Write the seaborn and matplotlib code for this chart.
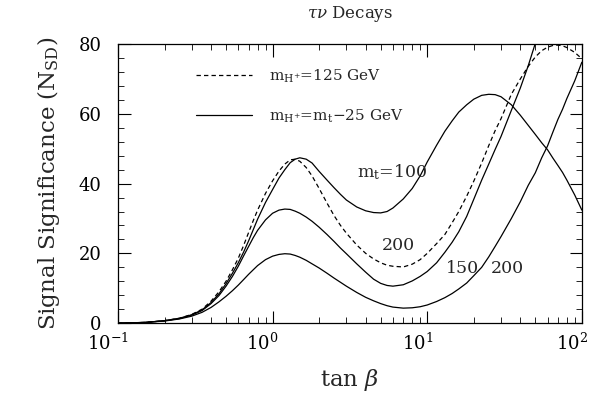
import matplotlib
matplotlib.use("Agg")
import matplotlib.pyplot as plt
import matplotlib.transforms as mtransforms
import seaborn as sns
import numpy as np
from matplotlib.ticker import MultipleLocator, LogLocator

# tan(beta) sample points
tanb = [0.1, 0.15, 0.2, 0.25, 0.3, 0.35, 0.4, 0.45, 0.5, 0.55, 0.6, 0.65, 0.7, 0.75,
        0.8, 0.9, 1.0, 1.1, 1.2, 1.3, 1.4, 1.5, 1.65, 1.8, 2.0, 2.25, 2.5, 2.75, 3.0,
        3.5, 4.0, 4.5, 5, 5.5, 6, 7, 8, 9, 10, 11.5, 13, 14.5, 16, 18, 20, 22.5, 25,
        27.5, 30, 35, 40, 45, 50, 55, 60, 65, 70, 75, 80, 90, 100]

# m_H+ = m_t - 25 GeV, m_t = 100
sig_mt100 = [0.0, 0.2, 0.7, 1.4, 2.4, 3.8, 5.9, 8.4, 11.3, 14.3, 17.3, 20.4, 23.6, 26.8,
             29.8, 34.6, 38.3, 41.6, 44.0, 46.0, 47.0, 47.4, 47.0, 45.9, 43.5, 41.0,
             38.8, 36.9, 35.3, 33.3, 32.2, 31.7, 31.6, 32.0, 33.0, 35.6, 38.6, 42.2,
             46.2, 51.0, 55.0, 58.0, 60.5, 62.6, 64.2, 65.3, 65.6, 65.5, 64.9, 62.6,
             59.6, 56.7, 54.1, 51.7, 49.7, 47.3, 45.2, 43.2, 41.0, 36.7, 32.4]
# m_t = 150 (leaves the frame near tan(beta) = 50)
tanb_150 = tanb[:54]
sig_mt150 = [0.0, 0.2, 0.7, 1.3, 2.3, 3.6, 5.6, 7.9, 10.6, 13.4, 16.3, 19.3, 22.0, 24.5,
             26.6, 29.6, 31.5, 32.4, 32.7, 32.6, 32.1, 31.5, 30.4, 29.2, 27.5, 25.4,
             23.4, 21.5, 19.9, 17.0, 14.6, 12.6, 11.4, 10.8, 10.6, 11.0, 12.1, 13.4,
             14.8, 17.3, 20.3, 23.2, 26.2, 30.6, 35.5, 41.0, 45.6, 49.8, 53.5, 61.0,
             67.4, 73.8, 80.2, 86.0]
# m_t = 200
sig_mt200 = [0.0, 0.2, 0.6, 1.2, 2.0, 3.1, 4.5, 6.1, 7.7, 9.3, 10.9, 12.5, 14.0, 15.3,
             16.5, 18.2, 19.2, 19.7, 19.9, 19.8, 19.4, 18.9, 18.0, 17.0, 15.8, 14.3,
             12.9, 11.7, 10.6, 8.8, 7.4, 6.4, 5.6, 5.0, 4.6, 4.3, 4.4, 4.7, 5.2, 6.2,
             7.3, 8.5, 9.8, 11.5, 13.6, 16.0, 19.0, 22.0, 24.8, 30.0, 34.8, 39.5, 43.1,
             47.4, 50.8, 54.8, 58.4, 61.3, 64.4, 69.5, 74.8]
# m_H+ = 125 GeV, m_t = 200 (dashed)
sig_mh125 = [0.0, 0.2, 0.7, 1.4, 2.5, 4.0, 6.3, 9.0, 12.0, 15.3, 18.6, 22.3, 26.0, 29.4,
             32.4, 37.2, 40.8, 43.6, 45.6, 46.8, 47.0, 46.4, 44.6, 42.2, 38.6, 34.4,
             30.8, 28.0, 25.8, 22.4, 20.0, 18.4, 17.3, 16.6, 16.3, 16.1, 16.9, 18.2,
             20.0, 22.8, 25.4, 28.8, 32.0, 36.4, 40.7, 45.9, 50.9, 55.2, 58.6, 65.6,
             70.0, 73.6, 76.3, 78.1, 79.1, 79.6, 79.7, 79.5, 79.0, 77.6, 75.8]

sns.set_theme(style="ticks")
plt.rcParams['font.family'] = ['DejaVu Serif']
plt.rcParams['mathtext.fontset'] = 'dejavuserif'
plt.rcParams['font.size'] = 13

fig = plt.figure(figsize=(6.08, 4.08), dpi=100)
ax = fig.add_axes([0.194, 0.208, 0.763, 0.684])

dash = (0, (3.5, 2.5))
curves = [
    (tanb, sig_mt100, '-'),
    (tanb_150, sig_mt150, '-'),
    (tanb, sig_mt200, '-'),
    (tanb, sig_mh125, dash),
]
for xs, ys, ls in curves:
    sns.lineplot(x=xs, y=ys, ax=ax, color='black', linewidth=0.9,
                 sort=False, estimator=None)
    ax.get_lines()[-1].set_linestyle(ls)

# legend with dummy handles
h1, = ax.plot([], [], color='black', lw=0.9, ls=dash)
h2, = ax.plot([], [], color='black', lw=0.9, ls='-')
ax.legend([h1, h2], [r'm$_{\rm H^{+}}$=125 GeV', r'm$_{\rm H^{+}}$=m$_{\rm t}$$-$25 GeV'],
          loc='upper left', bbox_to_anchor=(0.168, 0.915), frameon=False,
          handlelength=3.7, handletextpad=1.1, labelspacing=1.45,
          borderpad=0, borderaxespad=0, fontsize=11)

ax.text(3.5, 43.3, r'm$_{\rm t}$=100', fontsize=12.5, va='center')
ax.text(5.05, 22.3, '200', fontsize=12.5, va='center')
ax.text(13.3, 15.8, '150', fontsize=12.5, va='center')
ax.text(25.9, 15.8, '200', fontsize=12.5, va='center')

ax.set_xscale('log')
ax.set_xlim(0.1, 100)
ax.set_ylim(0, 80)
ax.yaxis.set_major_locator(MultipleLocator(20))
ax.yaxis.set_minor_locator(MultipleLocator(4))
ax.xaxis.set_minor_locator(LogLocator(base=10, subs=np.arange(2, 10)))
ax.tick_params(which='both', direction='in', top=True, right=True, colors='black',
               labelsize=13)
ax.tick_params(which='major', length=9, width=0.8)
ax.tick_params(which='minor', length=4, width=0.6)
ax.tick_params(axis='y', pad=12)
ax.tick_params(axis='x', pad=7)
for s in ax.spines.values():
    s.set_linewidth(0.9)
    s.set_color('black')

# x tick labels sit a little left of their ticks in the original
shift = mtransforms.ScaledTranslation(-10 / 100, 0, fig.dpi_scale_trans)
for lab in ax.get_xticklabels():
    lab.set_transform(lab.get_transform() + shift)

ax.set_title(r'$\tau\nu$ Decays', fontsize=12, pad=19)
ax.set_xlabel(r'tan $\beta$', fontsize=16.5, labelpad=9)
ax.set_ylabel(r'Signal Significance (N$_{\rm SD}$)', fontsize=16.5, labelpad=12)

fig.savefig('out.png', dpi=100)
